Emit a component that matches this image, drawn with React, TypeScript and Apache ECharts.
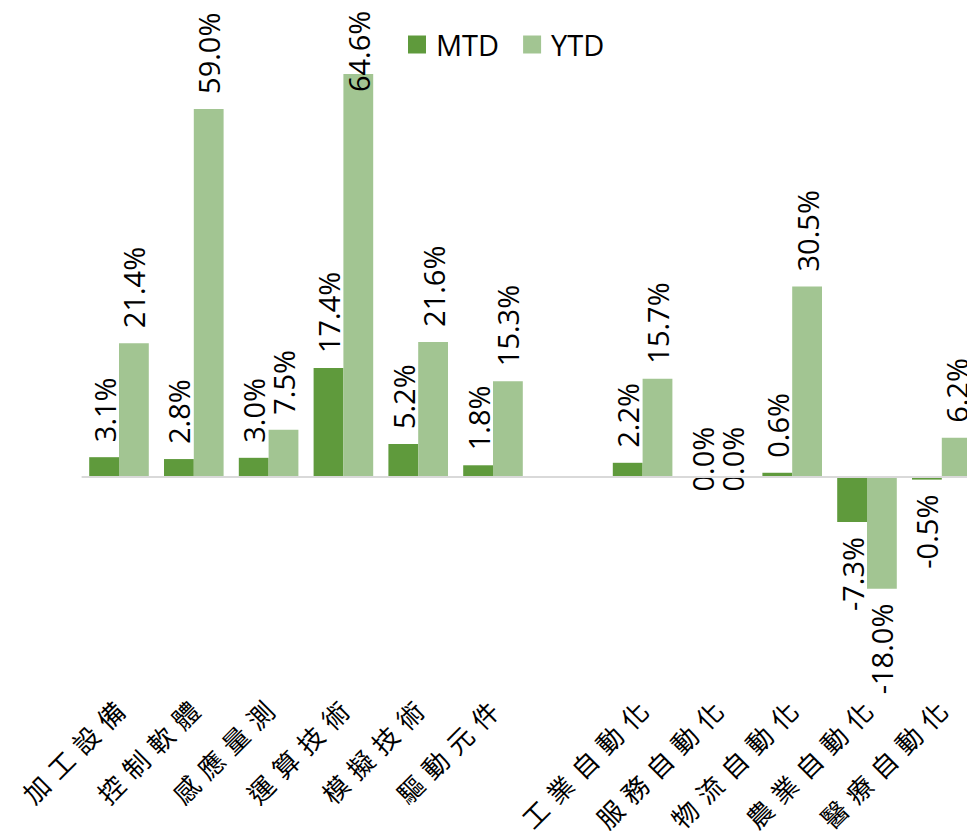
import React, { useEffect, useRef } from "react";
import * as echarts from "echarts";

const categories = [
  "加工設備",
  "控制軟體",
  "感應量測",
  "運算技術",
  "模擬技術",
  "驅動元件",
  "",
  "工業自動化",
  "服務自動化",
  "物流自動化",
  "農業自動化",
  "醫療自動化",
];
const mtd = [3.1, 2.8, 3.0, 17.4, 5.2, 1.8, null, 2.2, 0.0, 0.6, -7.3, -0.5];
const ytd = [21.4, 59.0, 7.5, 64.6, 21.6, 15.3, null, 15.7, 0.0, 30.5, -18.0, 6.2];
const seriesNames = ["MTD", "YTD"];

const Y_MIN = -34;
const Y_MAX = 70;
const PX_PER = 6.23;
const ZERO_Y = 476.5;
const CAT_SPACING = 9;

export default function App() {
  const ref = useRef<HTMLDivElement>(null);
  useEffect(() => {
    if (!ref.current) return;
    const chart = echarts.init(ref.current, undefined, { renderer: "svg" });
    const labelCfg = {
      show: true,
      position: "outside",
      rotate: 90,
      distance: 15,
      fontSize: 29,
      fontFamily: "Open Sans",
      color: "#000",
      formatter: (p: any) => (p.value == null ? "" : p.value.toFixed(1) + "%"),
    };
    const mkData = (arr: (number | null)[]) =>
      arr.map((v) => {
        if (v == null) return null;
        if (v > 60) {
          return {
            value: v,
            label: { position: "insideTop", distance: 18, align: "left", verticalAlign: "middle" },
          };
        }
        return {
          value: v,
          label:
            v < 0
              ? { align: "right", verticalAlign: "middle" }
              : { align: "left", verticalAlign: "middle" },
        };
      });
    const top = ZERO_Y - Y_MAX * PX_PER;
    const height = (Y_MAX - Y_MIN) * PX_PER;
    chart.setOption({
      animation: false,
      legend: {
        left: 408,
        top: 30,
        padding: 0,
        itemWidth: 18,
        itemHeight: 18,
        itemGap: 24,
        icon: "rect",
        data: seriesNames,
        textStyle: {
          fontSize: 29,
          fontFamily: "Open Sans",
          color: "#000",
          lineHeight: 18,
          padding: [0, 0, 0, 5],
        },
      },
      grid: {
        left: 81.6,
        width: 897.6,
        top,
        height,
        containLabel: false,
        outerBoundsMode: "none",
      },
      xAxis: {
        type: "category",
        data: categories,
        axisLine: { show: false, onZero: false },
        axisTick: { show: false },
        axisLabel: {
          interval: 0,
          rotate: 45,
          margin: 17,
          fontSize: 26,
          fontFamily: "Noto Sans CJK TC",
          color: "#000",
        },
      },
      yAxis: {
        type: "value",
        min: Y_MIN,
        max: Y_MAX,
        show: false,
        splitLine: { show: false },
      },
      series: [
        {
          name: seriesNames[0],
          type: "bar",
          barWidth: 29.8,
          barGap: "0%",
          itemStyle: { color: "#5f9a3c" },
          label: labelCfg,
          data: mkData(mtd),
          markLine: {
            silent: true,
            symbol: "none",
            label: { show: false },
            lineStyle: { color: "#d9d9d9", width: 2, type: "solid" },
            data: [{ yAxis: 0 }],
          },
        },
        {
          name: seriesNames[1],
          type: "bar",
          barWidth: 29.8,
          barGap: "0%",
          itemStyle: { color: "#a2c592" },
          label: labelCfg,
          data: mkData(ytd),
        },
      ],
    });
    const applySpacing = () => {
      if (!ref.current) return;
      const texts = ref.current.querySelectorAll("text");
      texts.forEach((t) => {
        const s = (t.textContent || "").trim();
        if (s && categories.indexOf(s) >= 0) {
          t.setAttribute("letter-spacing", String(CAT_SPACING));
          t.setAttribute("dx", String(CAT_SPACING));
        }
      });
    };
    applySpacing();
    chart.on("finished", applySpacing);
    return () => chart.dispose();
  }, []);
  return (
    <div
      ref={ref}
      style={{ position: "fixed", left: 0, top: 0, width: 967, height: 834, background: "#fff" }}
    />
  );
}
